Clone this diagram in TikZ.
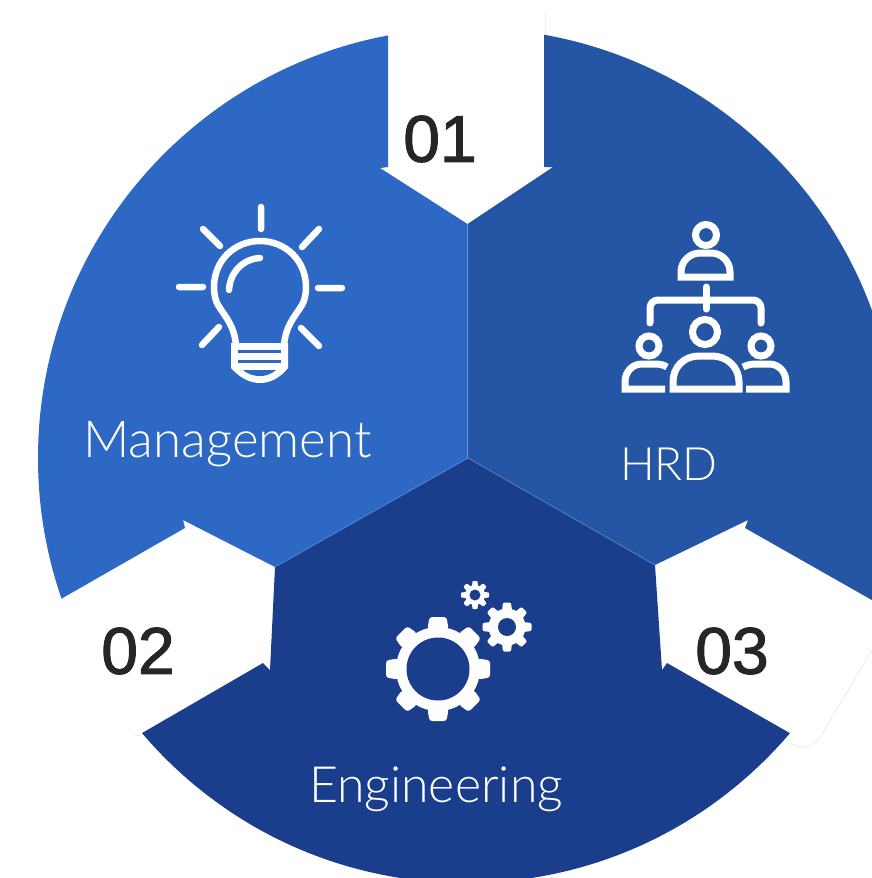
\documentclass[tikz,border=0pt]{standalone}
\usepackage{fontspec}
\setmainfont{Liberation Sans}
\newfontfamily\lightfont{Lato Light}
\newfontfamily\numfont[FakeBold=1.6]{Liberation Sans}
\definecolor{secA}{HTML}{2D69C4}
\definecolor{secB}{HTML}{2556A5}
\definecolor{secC}{HTML}{1A3E8C}
\definecolor{numcol}{HTML}{262626}
\tikzset{
  numlabel/.style={text=numcol,inner sep=0pt,font=\numfont\fontsize{66}{72}\selectfont},
  seclabel/.style={text=white,inner sep=0pt,font=\lightfont\fontsize{50}{56}\selectfont},
  iconline/.style={draw=white,line width=6.5pt,line cap=round,line join=round},
  iconbox/.style={draw=white,line width=7pt,line cap=butt,line join=miter},
  seam/.style={draw=#1,line width=0.7pt},
  faint/.style={draw=black!7,line width=1pt,line cap=round}
}
\newcommand{\gearicon}[7]{% x y hole body tooth width colour
  \begin{scope}[shift={(#1,#2)}]
    \fill[white] (0,0) circle (#4pt);
    \foreach \a in {0,45,...,315}{
      \begin{scope}[rotate=\a]
        \fill[white,rounded corners=#6*0.16pt] (#4-2,-#6*0.62) -- (#5,-#6*0.5) -- (#5,#6*0.5) -- (#4-2,#6*0.62) -- cycle;
      \end{scope}
    }
    \fill[#7] (0,0) circle (#3pt);
  \end{scope}
}
\begin{document}
\begin{tikzpicture}[x=1pt,y=-1pt]
\useasboundingbox (0,0) rectangle (872,878);
\clip (0,0) rectangle (872,878);
% faint outline of the white arrows
\draw[faint] (545,12) -- (545,35);
\draw[faint] (872,650) -- (820,737) .. controls (814,746) and (806,748) .. (800,747) -- (787,743);
\draw[faint] (134,736) -- (140,735);
\begin{scope}
  \clip (468,458) circle (430pt);
  \fill[secA] (388,-20) -- (388,167) -- (380,168) -- (467.5,224) -- (467.5,458) -- (275,567) -- (183,520) -- (185,528) -- (-37,655) -- (-37,-20) -- cycle;
  \fill[secB] (544,-20) -- (544,167) -- (553,167) -- (467.5,224) -- (467.5,458) -- (655,565) -- (748,520) -- (745,528) -- (900,616) -- (900,-20) -- cycle;
  \draw[seam=secA!70!white] (467.5,224) -- (467.5,458);
\end{scope}
\begin{scope}
  \clip (466,458) circle (425pt);
  \fill[secC] (468,458) -- (275,567) -- (270,670) -- (263,663) -- (42,791) -- (42,950) -- (900,950) -- (900,796) -- (667,663) -- (662,670) -- (655,565) -- cycle;
  \draw[seam=secA!80!white] (275,567) -- (468,458) -- (655,565);
\end{scope}
% bulb
\draw[iconline] (236,345) .. controls (234,325) and (226,318) .. (218,305) .. controls (215,300) and (214,293) .. (214,287) .. controls (214,261) and (234,241) .. (260,241) .. controls (286,241) and (306,261) .. (306,287) .. controls (306,293) and (305,300) .. (302,305) .. controls (294,318) and (286,325) .. (284,345);
\fill[white] (231,343) -- (288,343) -- (288,368) .. controls (280,378) and (270,383) .. (260,383) .. controls (250,383) and (240,378) .. (231,368) -- cycle;
\draw[secA,line width=3pt] (238,351) -- (281,351) (238,361) -- (281,361);
\fill[secA] (243,370) -- (276,370) .. controls (270,375) and (265,376) .. (260,376) .. controls (255,376) and (249,375) .. (243,370) -- cycle;
\draw[iconline] (229,290) .. controls (230,272) and (243,259) .. (260,258);
\draw[iconline] (261,207) -- (261,229) (203,229) -- (220,246) (319,229) -- (302,247) (179,287) -- (203,287) (318,288) -- (342,288) (219,327) -- (202,345) (301,328) -- (319,346);
% org chart
\draw[iconbox] (706,235) circle (10.5pt);
\draw[iconbox] (681,277) -- (681,272) .. controls (681,261) and (690,253) .. (700,253) -- (711,253) .. controls (721,253) and (730,261) .. (730,272) -- (730,277) -- cycle;
\draw[iconline,line width=7pt] (706,287) -- (706,309);
\draw[iconline,line width=7pt,rounded corners=8pt] (650,323) -- (650,300) -- (761,300) -- (761,323);
\draw[iconbox] (705,332) circle (12.5pt);
\draw[iconbox] (673,389) -- (673,382) .. controls (673,367) and (684,356) .. (699,356) -- (712,356) .. controls (727,356) and (739,367) .. (739,382) -- (739,389) -- cycle;
\draw[iconbox] (649,346) circle (10pt);
\draw[iconbox] (665,389) -- (625,389) -- (625,382) .. controls (625,372) and (632,364) .. (642,364) -- (655,364) .. controls (660,364) and (664,365) .. (667,367);
\draw[iconbox] (761,346) circle (10pt);
\draw[iconbox] (746,389) -- (786,389) -- (786,382) .. controls (786,372) and (779,364) .. (769,364) -- (756,364) .. controls (751,364) and (747,365) .. (743,367);
% gears
\gearicon{438}{669}{31.5}{42}{52}{17}{secC}
\gearicon{507}{627}{9}{18.5}{24.5}{8}{secC}
\gearicon{475}{595}{5.5}{10}{14}{5}{secC}
% labels
\node[numlabel] (n1) at (440,139) {01};
\node[numlabel] (n2) at (138,651) {02};
\node[numlabel] (n3) at (732,651) {03};
\node[seclabel,font=\lightfont\fontsize{51}{56}\selectfont] (mgmt) at (227.5,444) {Management};
\node[seclabel,font=\lightfont\fontsize{46}{52}\selectfont] (hrd) at (669,464) {HRD};
\node[seclabel] (eng) at (436,789) {Engineering};
\end{tikzpicture}
\end{document}
